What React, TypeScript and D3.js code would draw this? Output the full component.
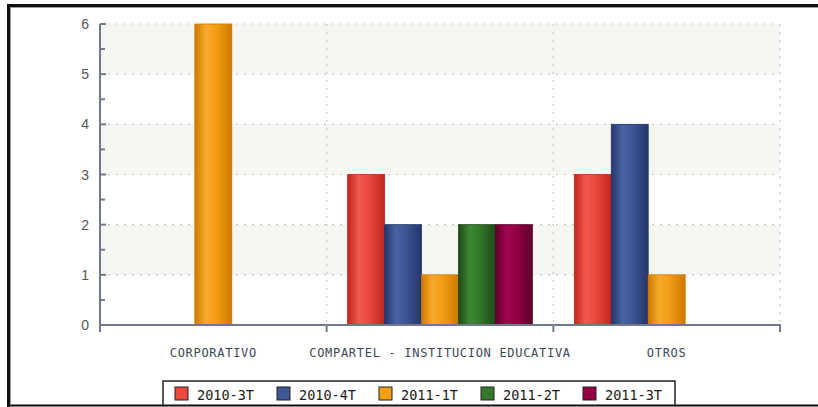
import React from "react";
import * as d3 from "d3";

const categories = ["CORPORATIVO", "COMPARTEL - INSTITUCION EDUCATIVA", "OTROS"];
const seriesNames = ["2010-3T", "2010-4T", "2011-1T", "2011-2T", "2011-3T"];
const s2010_3T = [0, 3, 3];
const s2010_4T = [0, 2, 4];
const s2011_1T = [6, 1, 1];
const s2011_2T = [0, 2, 0];
const s2011_3T = [0, 2, 0];
const yTicks = [0, 1, 2, 3, 4, 5, 6];

const seriesValues = [s2010_3T, s2010_4T, s2011_1T, s2011_2T, s2011_3T];
const colors = [
  { mid: "#ec4a3e", edge: "#c2261b", light: "#f0594c" },
  { mid: "#3f5797", edge: "#24356a", light: "#4a62a2" },
  { mid: "#f59f17", edge: "#cf7800", light: "#f7aa2a" },
  { mid: "#357a2c", edge: "#1c4a18", light: "#3d8634" },
  { mid: "#950045", edge: "#5c0028", light: "#a0064f" },
];

const W = 818;
const H = 407;
const left = 100;
const right = 780;
const top = 24;
const bottom = 325;

export default function App() {
  const x0 = d3.scaleBand<string>().domain(categories).range([left, right]).padding(0);
  const bw = x0.bandwidth();
  const x1 = d3
    .scaleBand<string>()
    .domain(seriesNames)
    .range([21, bw - 21])
    .paddingInner(0);
  const y = d3.scaleLinear().domain([0, 6]).range([bottom, top]);

  const bands = [] as JSX.Element[];
  for (let i = 0; i < 6; i++) {
    const shaded = i % 2 === 1;
    bands.push(
      <rect
        key={"b" + i}
        x={left}
        y={y(i + 1)}
        width={right - left}
        height={y(i) - y(i + 1)}
        fill={shaded ? "#f5f5f1" : "#ffffff"}
      />
    );
  }

  const minor = d3.range(0.5, 6, 1);

  return (
    <svg
      width={W}
      height={H}
      style={{ position: "absolute", left: 0, top: 0, background: "#fff" }}
    >
      <defs>
        {colors.map((c, i) => (
          <linearGradient key={i} id={"g" + i} x1="0" x2="1" y1="0" y2="0">
            <stop offset="0%" stopColor={c.edge} />
            <stop offset="30%" stopColor={c.light} />
            <stop offset="55%" stopColor={c.mid} />
            <stop offset="100%" stopColor={c.edge} />
          </linearGradient>
        ))}
      </defs>
      {bands}
      {yTicks
        .filter((t) => t > 0)
        .map((t) => (
          <line
            key={"h" + t}
            x1={left}
            x2={right}
            y1={y(t)}
            y2={y(t)}
            stroke="#c8c8c8"
            strokeWidth={1.2}
            strokeDasharray="2,6"
          />
        ))}
      {categories.map((c) => (
        <line
          key={"v" + c}
          x1={(x0(c) as number) + bw}
          x2={(x0(c) as number) + bw}
          y1={top}
          y2={bottom}
          stroke="#c8c8c8"
          strokeWidth={1.2}
          strokeDasharray="2,6"
        />
      ))}
      {categories.map((c, ci) =>
        seriesNames.map((s, si) => {
          const v = seriesValues[si][ci];
          if (!v) return null;
          const bx = (x0(c) as number) + (x1(s) as number);
          return (
            <rect
              key={c + s}
              x={bx}
              y={y(v)}
              width={x1.bandwidth()}
              height={y(0) - y(v)}
              fill={`url(#g${si})`}
              stroke={colors[si].edge}
              strokeWidth={0.8}
            />
          );
        })
      )}
      <line x1={left} x2={left} y1={top} y2={bottom} stroke="#707a8c" strokeWidth={2} />
      {yTicks.map((t) => (
        <g key={"yt" + t}>
          <line x1={left} x2={left + 6} y1={y(t)} y2={y(t)} stroke="#707a8c" strokeWidth={2} />
          <text
            x={89}
            y={y(t) + 5}
            textAnchor="end"
            fontFamily="Liberation Sans, Arial, sans-serif"
            fontSize={14}
            fill="#555"
          >
            {t}
          </text>
        </g>
      ))}
      {minor.map((t) => (
        <line key={"m" + t} x1={left} x2={left + 5} y1={y(t)} y2={y(t)} stroke="#707a8c" strokeWidth={2} />
      ))}
      <line x1={left} x2={right + 1} y1={bottom} y2={bottom} stroke="#707a8c" strokeWidth={2} />
      {[left, ...categories.map((c) => (x0(c) as number) + bw)].map((xx, i) => (
        <line key={"xt" + i} x1={xx} x2={xx} y1={bottom} y2={bottom + 7} stroke="#707a8c" strokeWidth={2} />
      ))}
      {categories.map((c) => (
        <text
          key={"xl" + c}
          x={(x0(c) as number) + bw / 2}
          y={357}
          textAnchor="middle"
          fontFamily="DejaVu Sans Mono, monospace"
          fontSize={12}
          letterSpacing={0.7}
          fill="#3e4656"
        >
          {c}
        </text>
      ))}
      <rect x={163} y={381} width={512} height={40} fill="#fff" stroke="#222" strokeWidth={1.5} />
      {seriesNames.map((s, i) => {
        const lx = 175 + i * 102;
        return (
          <g key={"lg" + s}>
            <rect x={lx} y={387} width={13} height={13} fill={colors[i].mid} stroke="#222" strokeWidth={1} />
            <text
              x={lx + 22}
              y={399.5}
              fontFamily="DejaVu Sans Mono, monospace"
              fontSize={13.5}
              fill="#1a1a1a"
            >
              {s}
            </text>
          </g>
        );
      })}
      <line x1={8.5} x2={8.5} y1={4} y2={407} stroke="#111" strokeWidth={3} />
      <line x1={10.5} x2={10.5} y1={7} y2={404} stroke="#999" strokeWidth={1} />
      <line x1={7} x2={818} y1={5.5} y2={5.5} stroke="#111" strokeWidth={3} />
      <line x1={10} x2={818} y1={7.5} y2={7.5} stroke="#999" strokeWidth={1} />
      <line x1={7} x2={818} y1={405.5} y2={405.5} stroke="#111" strokeWidth={2} />
    </svg>
  );
}
